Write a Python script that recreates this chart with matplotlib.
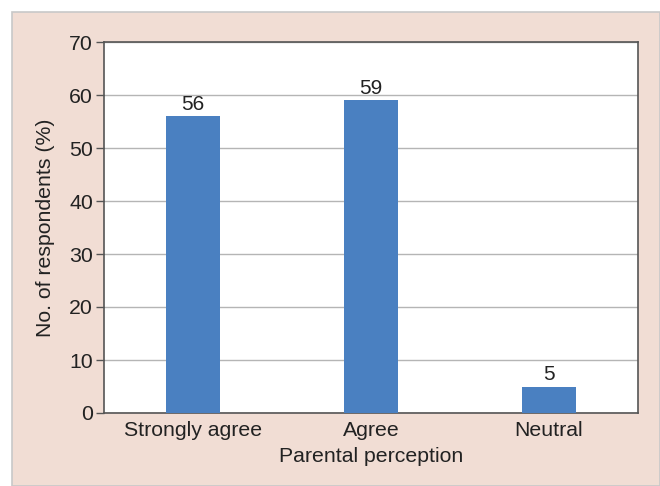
import matplotlib
matplotlib.use("Agg")
import matplotlib.pyplot as plt
from matplotlib.patches import Rectangle

categories = ["Strongly agree", "Agree", "Neutral"]
values = [56, 59, 5]
yticks = [0, 10, 20, 30, 40, 50, 60, 70]

plt.rcParams['font.family'] = ['Liberation Sans', 'DejaVu Sans']

fig = plt.figure(figsize=(6.6, 4.86), dpi=100)
fig.patch.set_facecolor('white')
bg = Rectangle((12/660, 0), 1 - 12/660, 1 - 12/486, transform=fig.transFigure,
               facecolor='#f1ddd4', edgecolor='#c8c8c8', linewidth=1.2, zorder=-10)
fig.add_artist(bg)

ax = fig.add_axes([104/660, 1 - 413/486, (638-104)/660, (413-42)/486])
ax.set_zorder(1)
ax.set_facecolor('white')
x = list(range(len(categories)))
bars = ax.bar(x, values, width=0.3, color='#4a80c1', zorder=3)
for xi, v in zip(x, values):
    ax.text(xi, v + 0.5, str(v), ha='center', va='bottom', fontsize=15, color='#222222')

ax.set_xlim(-0.5, len(categories) - 0.5)
ax.set_ylim(0, 70)
ax.set_yticks(yticks)
ax.set_xticks(x)
ax.set_xticklabels(categories)
ax.tick_params(axis='y', length=6, width=1, color='#555555', labelsize=15.3, labelcolor='#222222', pad=2)
ax.tick_params(axis='x', length=0, labelsize=15.3, labelcolor='#222222', pad=6)
ax.yaxis.grid(True, color='#b5b5b5', linewidth=1, zorder=0)
ax.set_axisbelow(True)
for s in ax.spines.values():
    s.set_color('#555555')
    s.set_linewidth(1.2)
ax.set_xlabel("Parental perception", fontsize=15.3, color='#222222', labelpad=5)
ax.set_ylabel("No. of respondents (%)", fontsize=15.3, color='#222222', labelpad=10)

fig.savefig("out.png", dpi=100, facecolor=fig.get_facecolor())
